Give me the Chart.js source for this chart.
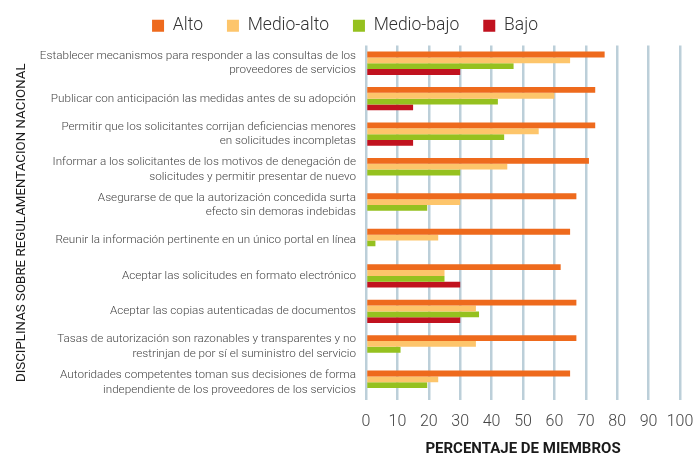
<!DOCTYPE html>
<html>
<head>
<meta charset="utf-8">
<script src="https://cdn.jsdelivr.net/npm/chart.js@4.4.1/dist/chart.umd.min.js"></script>
<style>
  html, body { margin: 0; padding: 0; background: #fff; }
  #wrap { width: 696px; height: 453px; }
</style>
</head>
<body>
<div id="wrap"><canvas id="chart"></canvas></div>
<script>
// --- DADOS DO GRÁFICO ---
const categorias = [
    ['Establecer mecanismos para responder a las consultas de los', 'proveedores de servicios'],
    'Publicar con anticipación las medidas antes de su adopción',
    ['Permitir que los solicitantes corrijan deficiencias menores', 'en solicitudes incompletas'],
    ['Informar a los solicitantes de los motivos de denegación de', 'solicitudes y permitir presentar de nuevo'],
    ['Asegurarse de que la autorización concedida surta', 'efecto sin demoras indebidas'],
    'Reunir la información pertinente en un único portal en línea',
    'Aceptar las solicitudes en formato electrónico',
    'Aceptar las copias autenticadas de documentos',
    ['Tasas de autorización son razonables y transparentes y no', 'restrinjan de por sí el suministro del servicio'],
    ['Autoridades competentes toman sus decisiones de forma', 'independiente de los proveedores de los servicios']
];
const alto      = [76, 73, 73, 71, 67, 65, 62, 67, 67, 65];
const medioAlto = [65, 60, 55, 45, 30, 23, 25, 35, 35, 23];
const medioBajo = [47, 42, 44, 30, 19.5, 3, 25, 36, 11, 19.5];
const bajo      = [30, 15, 15, null, null, null, 30, 30, null, null];
const serieNomes = ['Alto', 'Medio-alto', 'Medio-bajo', 'Bajo'];
const serieCores = ['#ee6a1d', '#fdc56b', '#95c11f', '#c1121f'];
const xTicks = [0, 10, 20, 30, 40, 50, 60, 70, 80, 90, 100];

const valores = [alto, medioAlto, medioBajo, bajo];

// ajuste da altura da legenda (padding grande só na horizontal)
const legendGap = {
    id: 'legendGap',
    beforeInit(chart) {
        const fitOriginal = chart.legend.fit;
        chart.legend.fit = function () {
            fitOriginal.bind(chart.legend)();
            this.height += 1;
        };
    }
};

const ctx = document.getElementById('chart').getContext('2d');
new Chart(ctx, {
    type: 'bar',
    data: {
        labels: categorias,
        datasets: valores.map((v, i) => ({
            label: serieNomes[i],
            data: v,
            backgroundColor: serieCores[i],
            borderWidth: 0,
            categoryPercentage: 0.66,
            barPercentage: 1
        }))
    },
    options: {
        indexAxis: 'y',
        responsive: true,
        maintainAspectRatio: false,
        animation: false,
        layout: { padding: { top: -7, left: 10, right: 16, bottom: 0 } },
        plugins: {
            tooltip: { enabled: false },
            legend: {
                position: 'top',
                labels: {
                    boxWidth: 12,
                    boxHeight: 12,
                    padding: 24,
                    color: '#333',
                    font: { family: 'Roboto', size: 17.5, weight: '300' }
                }
            }
        },
        scales: {
            x: {
                min: 0,
                max: 100,
                afterBuildTicks: (scale) => { scale.ticks = xTicks.map(v => ({ value: v })); },
                afterFit: (scale) => {
                    scale.height = 53;
                    // o "100" pode sair da área, não reservar espaço extra
                    scale.paddingRight = 0;
                    scale.paddingLeft = 0;
                },
                grid: { color: '#bccfd9', lineWidth: 2.5, drawTicks: false },
                border: { display: false },
                ticks: {
                    padding: 12,
                    autoSkip: false,
                    maxRotation: 0,
                    minRotation: 0,
                    color: '#444',
                    font: { family: 'Roboto', size: 16, weight: '300' }
                },
                title: {
                    display: true,
                    text: 'PERCENTAJE DE MIEMBROS',
                    color: '#1a1a1a',
                    padding: { top: 0, bottom: -5 },
                    font: { family: 'Roboto', size: 15, weight: 'bold' }
                }
            },
            y: {
                afterFit: (scale) => { scale.width = 356; },
                grid: { display: false, drawTicks: false },
                border: { display: false },
                ticks: {
                    padding: 10,
                    color: '#444',
                    font: { family: 'Roboto', size: 11.7, weight: '300', lineHeight: 1.25 }
                },
                title: {
                    display: true,
                    text: 'DISCIPLINAS SOBRE REGULAMENTACION NACIONAL',
                    color: '#1a1a1a',
                    padding: { top: 4, bottom: 0 },
                    font: { family: 'Roboto', size: 13.3 }
                }
            }
        }
    },
    plugins: [legendGap]
});
</script>
</body>
</html>
